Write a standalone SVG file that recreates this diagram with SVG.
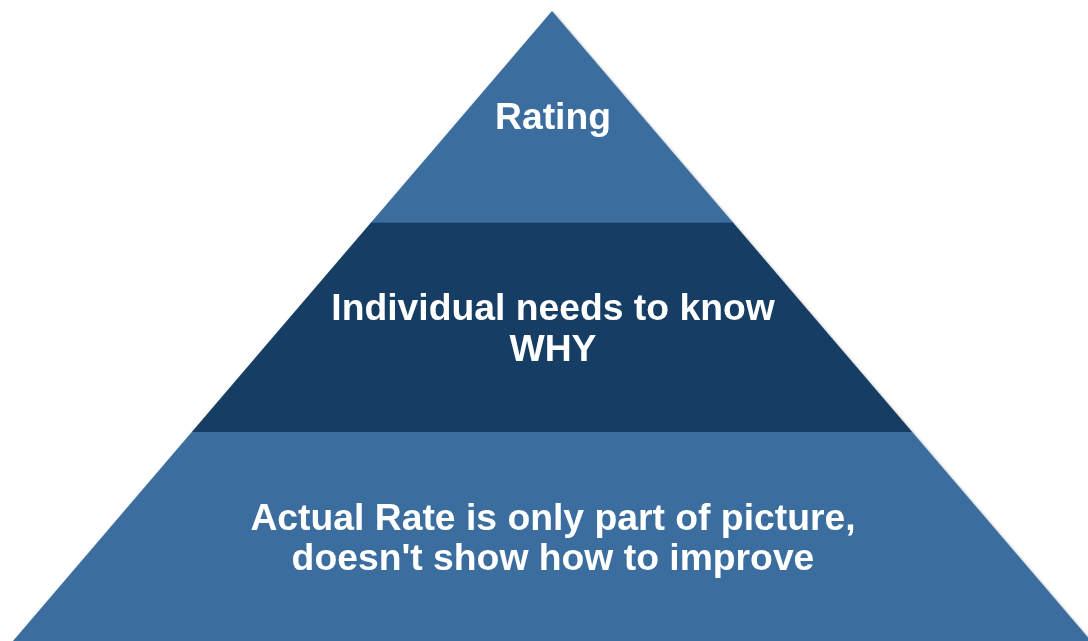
<svg xmlns="http://www.w3.org/2000/svg" width="1088" height="641" viewBox="0 0 1088 641">
  <style>
    .light { fill: #3a6e9e; }
    .dark { fill: #143c64; }
    .label { font-family: "Liberation Sans", Arial, sans-serif; font-weight: bold; font-size: 37.3px; fill: #ffffff; text-anchor: middle; }
  </style>
  <defs>
    <filter id="shadow" x="-5%" y="-5%" width="110%" height="110%">
      <feGaussianBlur in="SourceAlpha" stdDeviation="1.5"/>
      <feOffset dx="1" dy="1" result="b"/>
      <feComponentTransfer><feFuncA type="linear" slope="0.35"/></feComponentTransfer>
      <feMerge><feMergeNode/><feMergeNode in="SourceGraphic"/></feMerge>
    </filter>
  </defs>
  <rect width="1088" height="641" fill="#ffffff"/>
  <g filter="url(#shadow)">
    <g id="tier-top">
      <polygon class="light" points="552,11 732.5,222 371.5,222"/>
      <text class="label" x="553" y="128.5">Rating</text>
    </g>
    <g id="tier-middle">
      <polygon class="dark" points="371.5,222 732.5,222 912.2,432 191.8,432"/>
      <line x1="371.5" y1="222.5" x2="732.5" y2="222.5" stroke="#2f5f8c" stroke-width="1"/>
      <text class="label" x="553" y="320">Individual needs to know</text>
      <text class="label" x="553" y="360.5">WHY</text>
    </g>
    <g id="tier-bottom">
      <polygon class="light" points="191.8,432 912.2,432 1091,641 13,641"/>
      <text class="label" x="553" y="529.5">Actual Rate is only part of picture,</text>
      <text class="label" x="553" y="570">doesn't show how to improve</text>
    </g>
  </g>
  <g id="connectors"/>
</svg>
